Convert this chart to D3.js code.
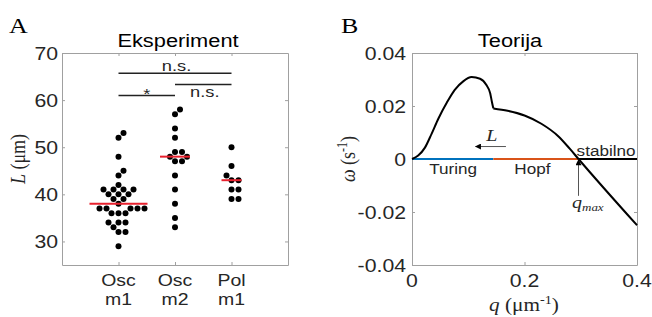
<!DOCTYPE html>
<html>
<head>
<meta charset="utf-8">
<script src="https://d3js.org/d3.v7.min.js"></script>
<style>
body { margin:0; background:#fff; }
text { font-family: "Liberation Sans", Arial, sans-serif; }
</style>
</head>
<body>
<svg id="fig" width="652" height="317"></svg>
<script>
// ---- Panel A : measured lengths (um)
var groups = ["Osc m1", "Osc m2", "Pol m1"];
var oscM1 = [53,52,48,45,44,42,41,41,41,41,40,40,40,39,39,38,37,37,37,37,37,36,36,36,34,34,34,33,32,32,29];
var oscM2 = [58,57,54,52,49,49,48,48,47,47,44,41,38,35,33];
var polM1 = [50,46,44,43,43,41,41,39,39];
var medians = [38, 48, 43];
var yTicksA = [30, 40, 50, 60, 70];

// significance bars (group index from / to, height in um)
var sigFrom = [1, 2, 1];
var sigTo = [2, 3, 3];
var sigLevel = [61.0, 63.3, 65.7];
var sigText = ["*", "n.s.", "n.s."];

// ---- Panel B : dispersion relation
var curveQ = [0, 0.011, 0.023, 0.035, 0.047, 0.062, 0.076, 0.091, 0.106, 0.121, 0.132, 0.139, 0.142, 0.1446,
              0.17, 0.2, 0.23, 0.26, 0.28, 0.296, 0.4];
var curveW = [0, 0.0013, 0.0043, 0.0096, 0.0153, 0.0213, 0.0261, 0.0293, 0.0309, 0.0303, 0.028, 0.0248, 0.0216, 0.0191,
              0.0182, 0.0164, 0.0133, 0.0086, 0.0040, 0, -0.025];
var cuspQ = 0.1446;
var bandStart = [0, 0.1446, 0.296];
var bandEnd = [0.1446, 0.296, 0.4];
var bandName = ["Turing", "Hopf", "stabilno"];
var bandLabelQ = [0.073, 0.214, 0.345];
var bandColor = ["#0072BD", "#D95319", "#000000"];
var xTicksB = [0, 0.2, 0.4];
var yTicksB = [-0.04, -0.02, 0, 0.02, 0.04];

var SX = 1.18;   // the figure is a bit wider than tall
var axisGray = "#a0a0a0";
var ink = "#262626";

var svg = d3.select("#fig");

// text helper, everything gets the same horizontal stretch
function put(g, x, y, size, anchor, family, rot) {
  var t = g.append("text")
    .attr("transform", "translate(" + x + "," + y + ") scale(" + SX + ",1)" + (rot ? " rotate(-90)" : ""))
    .attr("font-size", size)
    .attr("text-anchor", anchor)
    .attr("fill", ink);
  if (family) t.style("font-family", family);
  return t;
}

function boxAxes(g, x, y, xt, yt) {
  var x0 = x.range()[0], x1 = x.range()[1], y0 = y.range()[0], y1 = y.range()[1];
  g.append("g").attr("transform", "translate(0," + y0 + ")")
    .call(d3.axisBottom(x).tickValues(xt).tickFormat("").tickSizeInner(-3).tickSizeOuter(0));
  g.append("g").attr("transform", "translate(0," + y1 + ")")
    .call(d3.axisTop(x).tickValues(xt).tickFormat("").tickSizeInner(-3).tickSizeOuter(0));
  g.append("g").attr("transform", "translate(" + x0 + ",0)")
    .call(d3.axisLeft(y).tickValues(yt).tickFormat("").tickSizeInner(-3).tickSizeOuter(0));
  g.append("g").attr("transform", "translate(" + x1 + ",0)")
    .call(d3.axisRight(y).tickValues(yt).tickFormat("").tickSizeInner(-3).tickSizeOuter(0));
  g.selectAll(".domain, .tick line").attr("stroke", axisGray).attr("stroke-width", 1);
}

// ================= Panel A
var xA = d3.scaleLinear().domain([0, 4]).range([62, 288]);
var yA = d3.scaleLinear().domain([25, 70]).range([265, 53]);
var gA = svg.append("g");
boxAxes(gA, xA, yA, [1, 2, 3], yTicksA);

yTicksA.forEach(function(v) {
  put(gA, 58, yA(v) + 6.5, 18, "end").text(v);
});
// two-line category labels
groups.forEach(function(name, i) {
  var w = name.split(" ");
  put(gA, xA(i + 1), 286, 16.5, "middle").text(w[0]);
  put(gA, xA(i + 1), 305, 16.5, "middle").text(w[1]);
});

// beeswarm: each dot goes as close to the centre as it can without overlap
var r = 3, D = 6.6;
function swarm(vals, cx) {
  var placed = [];
  vals.slice().sort(function(a, b) { return a - b; }).forEach(function(v) {
    var py = yA(v);
    for (var k = 0; k < 400; k++) {
      var off = (k % 2 ? 1 : -1) * Math.ceil(k / 2) * 0.5;
      var ok = placed.every(function(p) {
        var dx = cx + off - p.x, dy = py - p.y;
        return dx * dx + dy * dy >= D * D - 0.01;
      });
      if (ok) { placed.push({x: cx + off, y: py}); break; }
    }
  });
  return placed;
}

[oscM1, oscM2, polM1].forEach(function(vals, i) {
  var cx = xA(i + 1);
  var pts = swarm(vals, cx);
  gA.append("g").selectAll("circle").data(pts).enter().append("circle")
    .attr("cx", function(d) { return d.x; })
    .attr("cy", function(d) { return d.y; })
    .attr("r", r)
    .attr("fill", "#000");
  var half = Math.max(10, d3.max(pts, function(d) { return Math.abs(d.x - cx); }) + 3);
  gA.append("line")
    .attr("x1", cx - half).attr("x2", cx + half)
    .attr("y1", yA(medians[i])).attr("y2", yA(medians[i]))
    .attr("stroke", "#e8212e").attr("stroke-width", 2);
});

// significance bars
var sigDy = [3.5, 12.4, -1.8];
sigText.forEach(function(s, i) {
  gA.append("line")
    .attr("x1", xA(sigFrom[i])).attr("x2", xA(sigTo[i]))
    .attr("y1", yA(sigLevel[i])).attr("y2", yA(sigLevel[i]))
    .attr("stroke", "#222").attr("stroke-width", 1.5);
  var mx = (xA(sigFrom[i]) + xA(sigTo[i])) / 2;
  put(gA, mx + (s === "*" ? 0 : 1.5), yA(sigLevel[i]) + sigDy[i], 15.5, "middle").text(s);
});

put(gA, 178, 47, 18.5, "middle").attr("fill", "#000").text("Eksperiment");
put(gA, 9, 33, 22, "start", "Liberation Serif, Times New Roman, serif").attr("fill", "#000").text("A");
var labA = put(gA, 25, 159, 18, "middle", "Liberation Serif, Times New Roman, serif", true);
labA.append("tspan").style("font-style", "italic").text("L");
labA.append("tspan").text(" (\u03bcm)");

// ================= Panel B
var xB = d3.scaleLinear().domain([0, 0.4]).range([412, 637]);
var yB = d3.scaleLinear().domain([-0.04, 0.04]).range([265, 53]);
var gB = svg.append("g");
boxAxes(gB, xB, yB, xTicksB, yTicksB);

yTicksB.forEach(function(v) {
  put(gB, 406, yB(v) + 6.5, 18, "end").text(v === 0 ? "0" : String(v));
});
xTicksB.forEach(function(v) {
  put(gB, xB(v), 287, 18, "middle").text(v === 0 ? "0" : String(v));
});

// coloured stability bands on omega = 0
bandName.forEach(function(n, i) {
  gB.append("line")
    .attr("x1", xB(bandStart[i])).attr("x2", xB(bandEnd[i]))
    .attr("y1", yB(0)).attr("y2", yB(0))
    .attr("stroke", bandColor[i]).attr("stroke-width", 2);
  var below = i < 2;
  put(gB, xB(bandLabelQ[i]), below ? yB(0) + 14.5 : yB(0) - 3, 14.5, "middle").text(n);
});

// omega(q), drawn in two pieces so the corner at the cusp stays sharp
var line = d3.line()
  .x(function(d) { return xB(d[0]); })
  .y(function(d) { return yB(d[1]); })
  .curve(d3.curveMonotoneX);
var pairs = curveQ.map(function(q, i) { return [q, curveW[i]]; });
var left = pairs.filter(function(d) { return d[0] <= cuspQ; });
var right = pairs.filter(function(d) { return d[0] >= cuspQ; });
[left, right].forEach(function(part) {
  gB.append("path").datum(part)
    .attr("d", line)
    .attr("fill", "none").attr("stroke", "#000").attr("stroke-width", 2);
});

// arrows
var defs = svg.append("defs");
defs.append("marker").attr("id", "head")
  .attr("viewBox", "0 0 10 10").attr("refX", 9).attr("refY", 5)
  .attr("markerWidth", 7).attr("markerHeight", 6).attr("markerUnits", "userSpaceOnUse")
  .attr("orient", "auto")
  .append("path").attr("d", "M0,0L10,5L0,10z").attr("fill", "#000");

gB.append("line")
  .attr("x1", xB(0.167)).attr("x2", xB(0.113))
  .attr("y1", yB(0.0047)).attr("y2", yB(0.0047))
  .attr("stroke", "#555").attr("stroke-width", 1)
  .attr("marker-end", "url(#head)");
put(gB, xB(0.142), yB(0.0047) - 6, 17, "middle", "Liberation Serif, Times New Roman, serif")
  .style("font-style", "italic").text("L");

gB.append("line")
  .attr("x1", xB(0.296)).attr("x2", xB(0.296))
  .attr("y1", yB(-0.0139)).attr("y2", yB(-0.0003))
  .attr("stroke", "#555").attr("stroke-width", 1)
  .attr("marker-end", "url(#head)");
var qm = put(gB, 572, 208, 17, "start", "Liberation Serif, Times New Roman, serif").style("font-style", "italic");
qm.append("tspan").text("q");
qm.append("tspan").attr("font-size", 11).attr("dy", 3).text("max");

put(gB, 510, 47, 18.5, "middle").attr("fill", "#000").text("Teorija");
put(gB, 341, 33, 22, "start", "Liberation Serif, Times New Roman, serif").attr("fill", "#000").text("B");

var labB = put(gB, 355, 159, 18, "middle", "Liberation Serif, Times New Roman, serif", true);
labB.append("tspan").style("font-style", "italic").text("\u03c9");
labB.append("tspan").text(" (s");
labB.append("tspan").attr("font-size", 12).attr("dy", -7).text("-1");
labB.append("tspan").attr("dy", 7).text(")");

var labQ = put(gB, 524, 311, 18, "middle", "Liberation Serif, Times New Roman, serif");
labQ.append("tspan").style("font-style", "italic").text("q");
labQ.append("tspan").text(" (\u03bcm");
labQ.append("tspan").attr("font-size", 12).attr("dy", -7).text("-1");
labQ.append("tspan").attr("dy", 7).text(")");
</script>
</body>
</html>
